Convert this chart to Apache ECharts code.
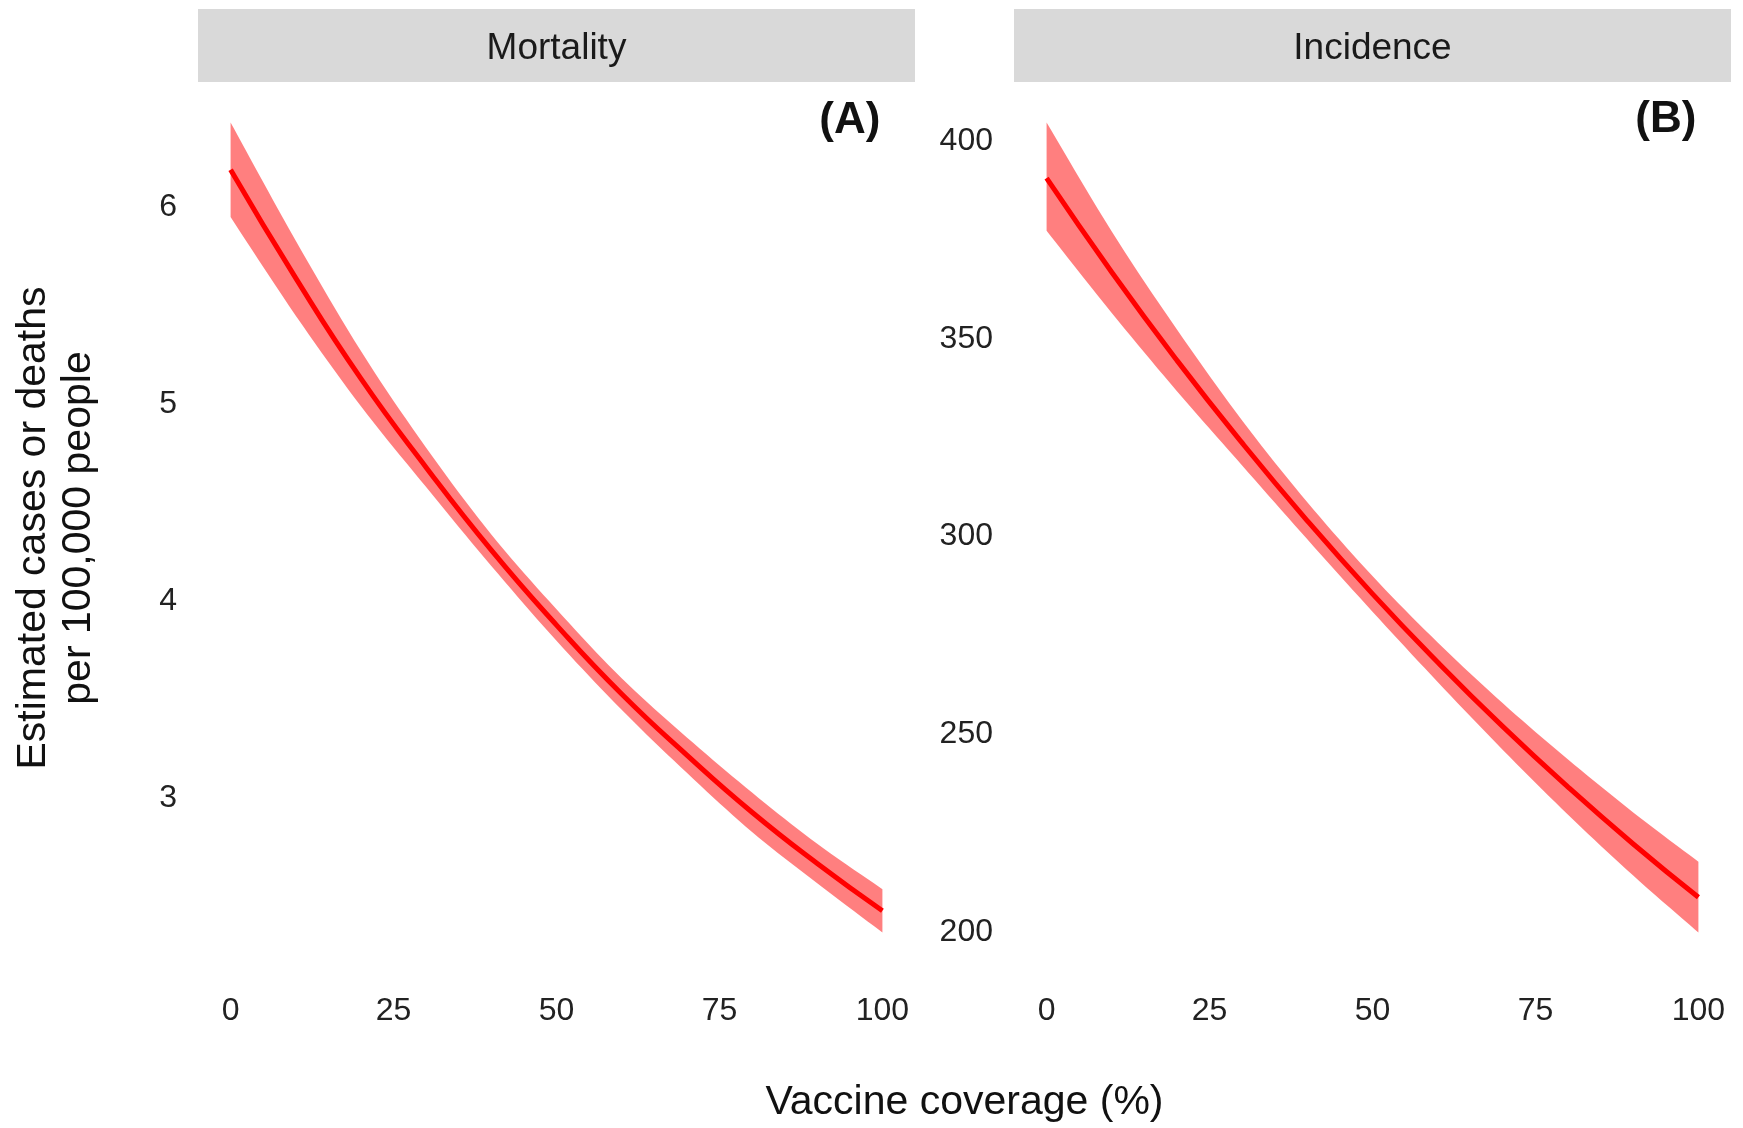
<!DOCTYPE html>
<html>
<head>
<meta charset="utf-8">
<script src="https://cdn.jsdelivr.net/npm/echarts@6/dist/echarts.min.js"></script>
<style>html,body{margin:0;padding:0;background:#fff;}#chart{width:1743px;height:1128px;}</style>
</head>
<body>
<div id="chart"></div>
<script>
// ---- data ----
const coverage = [0, 10, 20, 30, 40, 50, 60, 70, 80, 90, 100];

const mortalityFit   = [6.19, 5.64, 5.13, 4.68, 4.26, 3.88, 3.53, 3.22, 2.93, 2.67, 2.43];
const mortalityLower = [5.95, 5.45, 4.99, 4.58, 4.18, 3.80, 3.45, 3.13, 2.83, 2.57, 2.32];
const mortalityUpper = [6.43, 5.83, 5.27, 4.78, 4.34, 3.96, 3.61, 3.31, 3.03, 2.77, 2.54];

const incidenceFit   = [390.7, 366.9, 344.6, 323.7, 304.0, 285.5, 268.2, 251.9, 236.6, 222.2, 208.7];
const incidenceLower = [377.4, 356.6, 336.8, 318.0, 299.3, 281.0, 263.2, 246.0, 229.6, 214.2, 199.8];
const incidenceUpper = [404.8, 377.2, 352.4, 329.4, 308.7, 290.0, 273.2, 257.8, 243.6, 230.2, 217.7];

const xTicks = [0, 25, 50, 75, 100];
const mortalityTicks = [3, 4, 5, 6];
const incidenceTicks = [200, 250, 300, 350, 400];

const panelTitles = ['Mortality', 'Incidence'];
const panelTags = ['(A)', '(B)'];
const tagX = [100, 100];
const tagY = [6.44, 405.5];

const xTitle = 'Vaccine coverage (%)';
const yTitle = 'Estimated cases or deaths\nper 100,000 people';

// ---- layout / style ----
const FONT = '"Liberation Sans", Arial, sans-serif';
const panels = [
  {left: 198, width: 717, fit: mortalityFit, lo: mortalityLower, hi: mortalityUpper, ticks: mortalityTicks},
  {left: 1014, width: 717, fit: incidenceFit, lo: incidenceLower, hi: incidenceUpper, ticks: incidenceTicks}
];
const TOP = 82, HEIGHT = 891;

function pairs(xs, ys) { return xs.map((x, i) => [x, ys[i]]); }

// Catmull-Rom smoothing of an on-screen polyline (rendering only)
function smoothScreen(pts, steps) {
  const out = [];
  const n = pts.length;
  for (let i = 0; i < n - 1; i++) {
    const p0 = pts[Math.max(i - 1, 0)], p1 = pts[i], p2 = pts[i + 1], p3 = pts[Math.min(i + 2, n - 1)];
    for (let s = 0; s < steps; s++) {
      const t = s / steps, t2 = t * t, t3 = t2 * t;
      const f = (a, b, c, d) => 0.5 * ((2 * b) + (-a + c) * t + (2 * a - 5 * b + 4 * c - d) * t2 + (-a + 3 * b - 3 * c + d) * t3);
      out.push([f(p0[0], p1[0], p2[0], p3[0]), f(p0[1], p1[1], p2[1], p3[1])]);
    }
  }
  out.push(pts[n - 1]);
  return out;
}

const grid = [], xAxis = [], yAxis = [], series = [], graphic = [];

panels.forEach((p, k) => {
  grid.push({left: p.left, top: TOP, width: p.width, height: HEIGHT, containLabel: false});
  const xr = Math.max(...coverage) - Math.min(...coverage);
  xAxis.push({
    type: 'value', gridIndex: k,
    min: Math.min(...coverage) - 0.05 * xr, max: Math.max(...coverage) + 0.05 * xr,
    axisLine: {show: false}, axisTick: {show: false, customValues: xTicks}, splitLine: {show: false},
    axisLabel: {customValues: xTicks, margin: 22, fontSize: 32, color: '#222', fontFamily: FONT,
      formatter: v => (xTicks.indexOf(v) >= 0 ? String(v) : '')}
  });
  const lo = Math.min(...p.lo), hi = Math.max(...p.hi), pad = 0.05 * (hi - lo);
  yAxis.push({
    type: 'value', gridIndex: k, min: lo - pad, max: hi + pad,
    axisLine: {show: false}, axisTick: {show: false, customValues: p.ticks}, splitLine: {show: false},
    axisLabel: {customValues: p.ticks, margin: 21, fontSize: 32, color: '#222', fontFamily: FONT,
      padding: [4, 0, 0, 0],
      formatter: v => (p.ticks.indexOf(v) >= 0 ? String(v) : '')}
  });
  // confidence ribbon: one polygon through the upper values then the lower values
  const bandRows = coverage.map((x, i) => [x, p.lo[i], p.hi[i]]);
  series.push({
    type: 'custom', xAxisIndex: k, yAxisIndex: k, silent: true, z: 2,
    data: bandRows,
    encode: {x: 0, y: [1, 2]},
    renderItem: (params, api) => {
      if (params.dataIndex !== 0) return null;
      const upper = smoothScreen(bandRows.map(r => api.coord([r[0], r[2]])), 10);
      const lower = smoothScreen(bandRows.map(r => api.coord([r[0], r[1]])), 10).reverse();
      return {type: 'polygon', shape: {points: upper.concat(lower)},
        style: {fill: 'rgba(255,0,0,0.5)', stroke: null}};
    }
  });
  series.push({
    type: 'line', xAxisIndex: k, yAxisIndex: k, smooth: true, symbol: 'none', silent: true,
    lineStyle: {color: '#FF0000', width: 5}, data: pairs(coverage, p.fit), z: 5
  });
  // panel tag, anchored at data coordinates
  series.push({
    type: 'custom', xAxisIndex: k, yAxisIndex: k, silent: true, z: 6,
    data: [[tagX[k], tagY[k]]],
    renderItem: (params, api) => {
      const pt = api.coord([api.value(0), api.value(1)]);
      return {type: 'text', x: pt[0] - 2, y: pt[1],
        style: {text: panelTags[k], fontSize: 44, fontWeight: 'bold', fill: '#111111',
          fontFamily: FONT, textAlign: 'right', textVerticalAlign: 'middle'}};
    }
  });
  // facet strip
  graphic.push({type: 'rect', shape: {x: p.left, y: 9, width: p.width, height: TOP - 9},
    style: {fill: '#D9D9D9'}, silent: true});
  graphic.push({type: 'text', x: p.left + p.width / 2, y: (9 + TOP) / 2 + 3,
    style: {text: panelTitles[k], fontSize: 37, fill: '#1A1A1A', fontFamily: FONT,
      textAlign: 'center', textVerticalAlign: 'middle'}, silent: true});
});

graphic.push({type: 'text', x: (198 + 1731) / 2, y: 1103,
  style: {text: xTitle, fontSize: 41, fill: '#111', fontFamily: FONT,
    textAlign: 'center', textVerticalAlign: 'middle'}, silent: true});
graphic.push({type: 'text', x: 56, y: 528, rotation: Math.PI / 2,
  style: {text: yTitle, fontSize: 41, lineHeight: 45, fill: '#111', fontFamily: FONT,
    textAlign: 'center', textVerticalAlign: 'middle'}, silent: true});

const chart = echarts.init(document.getElementById('chart'), null, {renderer: 'canvas'});
chart.setOption({
  backgroundColor: '#ffffff',
  animation: false,
  grid, xAxis, yAxis, series, graphic
});
</script>
</body>
</html>
